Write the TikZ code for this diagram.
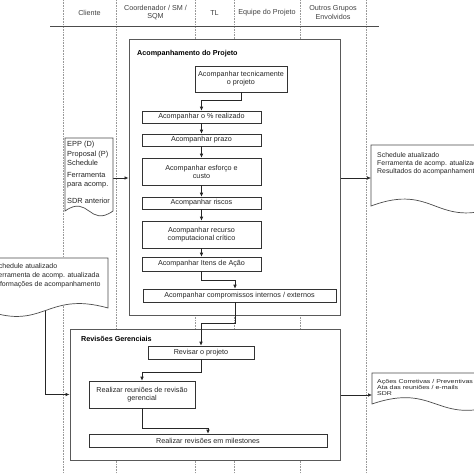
\documentclass[tikz,border=0pt]{standalone}
\usepackage{fontspec}
\setmainfont{Liberation Sans}
\usetikzlibrary{arrows.meta}
\begin{document}
\begin{tikzpicture}[x=1pt,y=-1pt,
  lane/.style={draw=black!40, densely dotted, line width=0.6pt},
  stepbox/.style={draw=black!80, fill=white, line width=0.6pt, inner sep=1pt, align=center,
    font=\fontsize{7.2}{8}\selectfont, text=black!85},
  group/.style={draw=black!65, fill=white, line width=1pt, inner sep=0pt},
  gtitle/.style={anchor=west, inner sep=0pt, font=\bfseries\fontsize{7.2}{8}\selectfont},
  arr/.style={draw=black!85, line width=0.6pt, -{Latex[length=4pt,width=3.5pt]}},
  doc/.style={draw=black!70, fill=white, line width=0.7pt},
  doctext/.style={align=left, anchor=north west, inner sep=0pt, text=black!85},
  hdr/.style={font=\fontsize{7.2}{8.5}\selectfont, align=center, text=black!75, inner sep=0pt}
]
\useasboundingbox (0,0) rectangle (474,474);
\clip (0,0) rectangle (474,474);
\fill[white] (0,0) rectangle (474,474);
% lanes
\foreach \lx in {63,116,195,234,300,366} \draw[lane] (\lx,0) -- (\lx,474);
\draw[black!70, line width=0.8pt] (50,26) -- (379,26);
\node[hdr] (hcli) at (89.5,13) {Cliente};
\node[hdr] (hcoo) at (155.5,12.5) {Coordenador / SM /\\SQM};
\node[hdr] (htl) at (214.5,13) {TL};
\node[hdr] (hequ) at (267,13) {Equipe do Projeto};
\node[hdr] (hout) at (333,12.5) {Outros Grupos\\Envolvidos};

% connectors from documents (drawn under the shapes)
\coordinate (d1r) at (110,178);
\coordinate (d2l) at (371,178);
\coordinate (d3l) at (372,395);
\coordinate (d4b) at (45,300);

% group boxes
\node[group, minimum width=211pt, minimum height=276pt] (mainbox) at (234.5,177) {};
\node[gtitle] (maint) at (137,54) {Acompanhamento do Projeto};
\node[group, minimum width=270pt, minimum height=131pt] (revbox) at (205,394.5) {};
\node[gtitle] (revt) at (81,339) {Revisões Gerenciais};

\draw[arr] (d1r) -- (d1r -| mainbox.west);
\draw[arr] (d2l -| mainbox.east) -- (d2l);
\draw[arr] (d3l -| revbox.east) -- (d3l);
\draw[arr] (d4b) |- (revbox.west);

% steps
\node[stepbox, minimum width=92pt, minimum height=26pt] (tec) at (241,79) {Acompanhar tecnicamente\\o projeto};
\node[stepbox, minimum width=119pt, minimum height=12pt] (perc) at (201.5,117) {Acompanhar o \% realizado};
\node[stepbox, minimum width=119pt, minimum height=12pt] (prazo) at (201.5,140) {Acompanhar prazo};
\node[stepbox, minimum width=119pt, minimum height=27pt] (esf) at (201.5,171.5) {Acompanhar esforço e\\custo};
\node[stepbox, minimum width=119pt, minimum height=12pt] (risc) at (201.5,203) {Acompanhar riscos};
\node[stepbox, minimum width=119pt, minimum height=27pt] (rec) at (201.5,234.5) {Acompanhar recurso\\computacional crítico};
\node[stepbox, minimum width=119pt, minimum height=14pt] (itens) at (201.5,264) {Acompanhar Itens de Ação};
\node[stepbox, minimum width=193pt, minimum height=13pt] (comp) at (239.5,295.5) {Acompanhar compromissos internos / externos};

\node[stepbox, minimum width=106pt, minimum height=13pt] (revis) at (201,352.5) {Revisar o projeto};
\node[stepbox, minimum width=106pt, minimum height=27pt] (reun) at (142,394.5) {Realizar reuniões de revisão\\gerencial};
\node[stepbox, minimum width=238pt, minimum height=13pt] (miles) at (208,440.5) {Realizar revisões em milestones};

\draw[arr] (tec.south) -- ++(0,8) -| (perc.north);
\draw[arr] (perc) -- (prazo);
\draw[arr] (prazo) -- (esf);
\draw[arr] (esf) -- (risc);
\draw[arr] (risc) -- (rec);
\draw[arr] (rec) -- (itens);
\draw[arr] (itens.south) -- ++(0,9) -| ([xshift=-4.5pt]comp.north);
\draw[arr] ([xshift=-4.5pt]comp.south) -- ++(0,20.5) -| (revis.north);
\draw[arr] (revis.south) -- ++(0,13) -| (reun.north);
\draw[arr] (reun.south) -- ++(0,20) -| (miles.north);

% documents
\draw[doc] (65,138) -- (113,138) -- (113,211) .. controls (89,228) and (89,194) .. (65,211) -- cycle;
\node[doctext, font=\fontsize{7.4}{9.5}\selectfont] (d1a) at (67,141) {EPP (D)\\Proposal (P)\\Schedule};
\node[doctext, font=\fontsize{7.4}{9.5}\selectfont] (d1b) at (67,172) {Ferramenta\\para acomp.};
\node[doctext, font=\fontsize{7.4}{9.5}\selectfont] (d1c) at (67,198) {SDR anterior};

\draw[doc] (371,145) -- (500,145) -- (500,206) .. controls (435,230) and (435,182) .. (371,206) -- cycle;
\node[doctext, font=\fontsize{6.9}{7.7}\selectfont] (d2t) at (377,152.5) {Schedule atualizado\\Ferramenta de acomp. atualizado\\Resultados do acompanhamento};

\draw[doc] (372,373) -- (500,373) -- (500,404) .. controls (436,426) and (436,382) .. (372,404) -- cycle;
\node[doctext, font=\fontsize{7}{7.2}\selectfont, yscale=0.8, transform shape] (d3t) at (377,379.5) {Ações Corretivas / Preventivas\\Ata das reuniões / e-mails\\SDR};

\draw[doc] (-20,258) -- (108,258) -- (108,308) .. controls (44,290) and (44,334) .. (-20,308) -- cycle;
\node[doctext, font=\fontsize{7}{8.8}\selectfont] (d4t) at (-6,263.5) {Schedule atualizado\\Ferramenta de acomp. atualizada\\Informações de acompanhamento};
\end{tikzpicture}
\end{document}
